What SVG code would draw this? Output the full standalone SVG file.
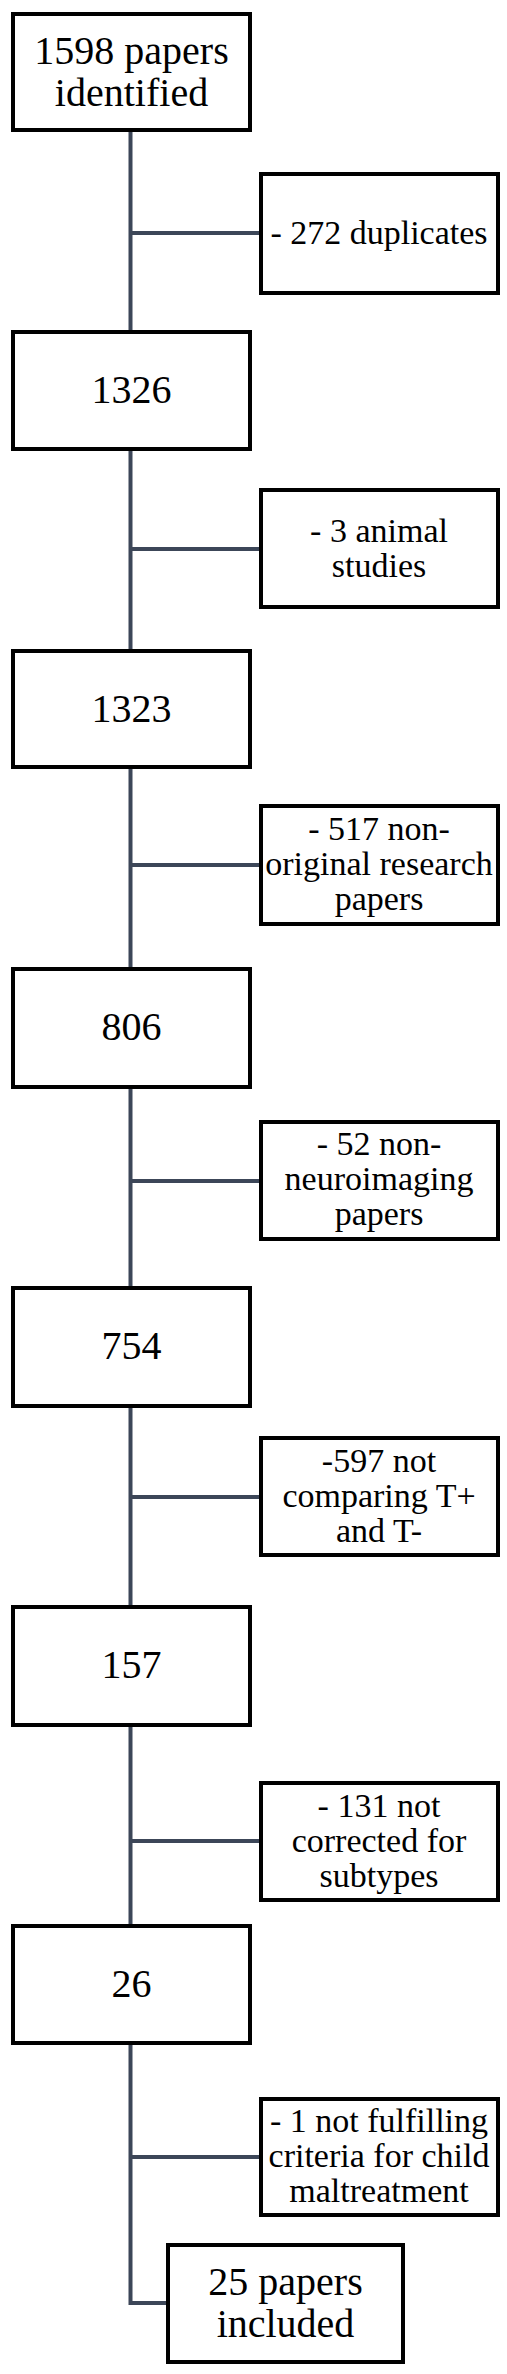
<svg xmlns="http://www.w3.org/2000/svg" width="507" height="2374" viewBox="0 0 507 2374">
<style>
.box{fill:#fff;stroke:#000;stroke-width:4}
.con{fill:none;stroke:#3c4658;stroke-width:4}
.m{font-family:"Liberation Serif","Times New Roman",serif;font-size:40px;fill:#000;text-anchor:middle}
.s{font-family:"Liberation Serif","Times New Roman",serif;font-size:34px;fill:#000;text-anchor:middle}
</style>
<rect width="507" height="2374" fill="#fff"/>
<g id="connectors">
<path class="con" d="M130.5 132V330M130.5 233H259"/>
<path class="con" d="M130.5 451V649M130.5 549H259"/>
<path class="con" d="M130.5 769V967M130.5 865H259"/>
<path class="con" d="M130.5 1089V1286M130.5 1181H259"/>
<path class="con" d="M130.5 1408V1605M130.5 1497H259"/>
<path class="con" d="M130.5 1727V1924M130.5 1841H259"/>
<path class="con" d="M130.5 2045V2303H166M130.5 2157H259"/>
</g>
<g id="n1"><rect class="box" x="13" y="14" width="237" height="116"/><text class="m" x="131.5" y="64">1598 papers</text><text class="m" x="131.5" y="106">identified</text></g>
<g id="e1"><rect class="box" x="261" y="174" width="237" height="119"/><text class="s" x="379" y="244">- 272 duplicates</text></g>
<g id="n2"><rect class="box" x="13" y="332" width="237" height="117"/><text class="m" x="131.5" y="403">1326</text></g>
<g id="e2"><rect class="box" x="261" y="490" width="237" height="117"/><text class="s" x="379" y="542">- 3 animal</text><text class="s" x="379" y="577">studies</text></g>
<g id="n3"><rect class="box" x="13" y="651" width="237" height="116"/><text class="m" x="131.5" y="722">1323</text></g>
<g id="e3"><rect class="box" x="261" y="806" width="237" height="118"/><text class="s" x="379" y="840">- 517 non-</text><text class="s" x="379" y="875">original research</text><text class="s" x="379" y="910">papers</text></g>
<g id="n4"><rect class="box" x="13" y="969" width="237" height="118"/><text class="m" x="131.5" y="1040">806</text></g>
<g id="e4"><rect class="box" x="261" y="1122" width="237" height="117"/><text class="s" x="379" y="1155">- 52 non-</text><text class="s" x="379" y="1190">neuroimaging</text><text class="s" x="379" y="1225">papers</text></g>
<g id="n5"><rect class="box" x="13" y="1288" width="237" height="118"/><text class="m" x="131.5" y="1359">754</text></g>
<g id="e5"><rect class="box" x="261" y="1438" width="237" height="117"/><text class="s" x="379" y="1472">-597 not</text><text class="s" x="379" y="1507">comparing T+</text><text class="s" x="379" y="1542">and T-</text></g>
<g id="n6"><rect class="box" x="13" y="1607" width="237" height="118"/><text class="m" x="131.5" y="1678">157</text></g>
<g id="e6"><rect class="box" x="261" y="1783" width="237" height="117"/><text class="s" x="379" y="1817">- 131 not</text><text class="s" x="379" y="1852">corrected for</text><text class="s" x="379" y="1887">subtypes</text></g>
<g id="n7"><rect class="box" x="13" y="1926" width="237" height="117"/><text class="m" x="131.5" y="1997">26</text></g>
<g id="e7"><rect class="box" x="261" y="2099" width="237" height="116"/><text class="s" x="379" y="2132">- 1 not fulfilling</text><text class="s" x="379" y="2167">criteria for child</text><text class="s" x="379" y="2202">maltreatment</text></g>
<g id="n8"><rect class="box" x="168" y="2245" width="235" height="117"/><text class="m" x="285.5" y="2295">25 papers</text><text class="m" x="285.5" y="2337">included</text></g>
</svg>
